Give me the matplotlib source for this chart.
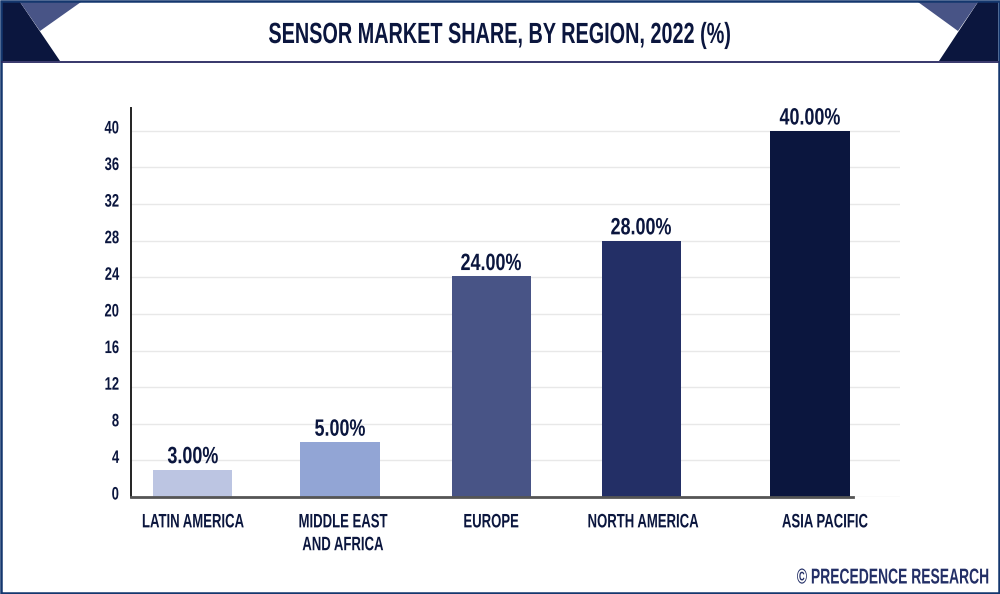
import matplotlib
matplotlib.use("Agg")
import matplotlib.pyplot as plt
import matplotlib.patheffects as pe
from matplotlib.patches import Polygon
from matplotlib.transforms import Affine2D, ScaledTranslation
import numpy as np

regions = ["LATIN AMERICA", "MIDDLE EAST\nAND AFRICA", "EUROPE", "NORTH AMERICA", "ASIA PACIFIC"]
bar_heights = [3, 6, 24.1, 28, 40]
bar_labels = ["3.00%", "5.00%", "24.00%", "28.00%", "40.00%"]
bar_colors = ["#bcc5e2", "#92a5d5", "#485486", "#232f66", "#0b163e"]
yticks = [0, 4, 8, 12, 16, 20, 24, 28, 32, 36, 40]

# bars are not evenly spaced in the original
bar_x = np.array([0, 0.98, 1.987, 2.987, 4.113])
label_x = np.array([0, 1.0, 1.987, 3.0, 4.213])

navy = "#0b163e"
plt.rcParams["font.family"] = ["Liberation Sans", "DejaVu Sans"]
plt.rcParams["font.weight"] = "bold"


class Squeeze(pe.AbstractPathEffect):
    # no condensed font here, so narrow the glyphs of the text when drawn
    def __init__(self, sx, anchor="center"):
        super().__init__()
        self.sx = sx
        self.anchor = anchor

    def draw_path(self, renderer, gc, tpath, affine, rgbFace=None):
        ext = tpath.get_extents()
        pivot = {"center": (ext.x0 + ext.x1) / 2, "right": ext.x1, "left": ext.x0}[self.anchor]
        squeeze = Affine2D().translate(-pivot, 0).scale(self.sx, 1).translate(pivot, 0)
        renderer.draw_path(gc, tpath, squeeze + affine, rgbFace)


fig = plt.figure(figsize=(10, 5.94), dpi=100, facecolor="white")

# header and frame, drawn in pixel coordinates
bg = fig.add_axes([0, 0, 1, 1])
bg.set_xlim(0, 1000)
bg.set_ylim(594, 0)
bg.axis("off")
bg.add_patch(Polygon([(2, 2), (20, 2), (60, 61), (2, 61)], color=navy, lw=0))
bg.add_patch(Polygon([(20, 2), (81, 2), (40, 31)], color="#485486", lw=0))
bg.add_patch(Polygon([(998, 2), (978, 2), (939, 61), (998, 61)], color=navy, lw=0))
bg.add_patch(Polygon([(918, 2), (978, 2), (958, 31)], color="#485486", lw=0))
bg.plot([2, 998], [61.5, 61.5], color="#26265f", lw=1.3)
bg.add_patch(plt.Rectangle((0.8, 0.8), 998.4, 592.4, fill=False, ec="#14376e", lw=1.8))
title = bg.text(500, 35, "SENSOR MARKET SHARE, BY REGION, 2022 (%)", ha="center", va="center",
                fontsize=21, color=navy)
title.set_path_effects([Squeeze(0.68)])
brand = bg.text(988, 578, "© PRECEDENCE RESEARCH", ha="right", va="center", fontsize=15.5, color="#232f66")
brand.set_path_effects([Squeeze(0.645, "right")])

ax = fig.add_axes([131 / 1000, 1 - 497 / 594, 769 / 1000, 389 / 594])
ax.patch.set_alpha(0)
ax.set_xlim(-0.413, 4.713)
ax.set_ylim(0, 42.5)
ax.set_axisbelow(True)
ax.yaxis.grid(True, color="#e8e8e8", lw=1)
ax.bar(bar_x, bar_heights, width=0.527, color=bar_colors, zorder=2)
for x, h, lab in zip(bar_x, bar_heights, bar_labels):
    t = ax.text(x, h + 0.15, lab, ha="center", va="bottom", fontsize=17, color=navy)
    t.set_path_effects([Squeeze(0.76)])

ax.set_yticks(yticks)
ax.set_yticklabels([str(v) for v in yticks], fontsize=13, color=navy)
ax.set_xticks(label_x)
ax.set_xticklabels(regions, fontsize=14, color=navy, linespacing=1.45)
ax.tick_params(axis="both", length=0)
ax.tick_params(axis="x", pad=12.5)
ax.tick_params(axis="y", pad=8.5)

# y labels sit a little above their gridlines
up = ScaledTranslation(0, 4 / 100, fig.dpi_scale_trans)
for t in ax.get_yticklabels():
    t.set_transform(t.get_transform() + up)
    t.set_path_effects([Squeeze(0.72, "right")])
for t in ax.get_xticklabels():
    t.set_path_effects([Squeeze(0.675)])

for s in ["top", "right"]:
    ax.spines[s].set_visible(False)
ax.spines["left"].set_color("#222222")
ax.spines["left"].set_linewidth(1.4)
ax.spines["bottom"].set_color("#555555")
ax.spines["bottom"].set_linewidth(2)
ax.spines["bottom"].set_bounds(-0.413, 4.4)

fig.savefig("out.png", dpi=100)
